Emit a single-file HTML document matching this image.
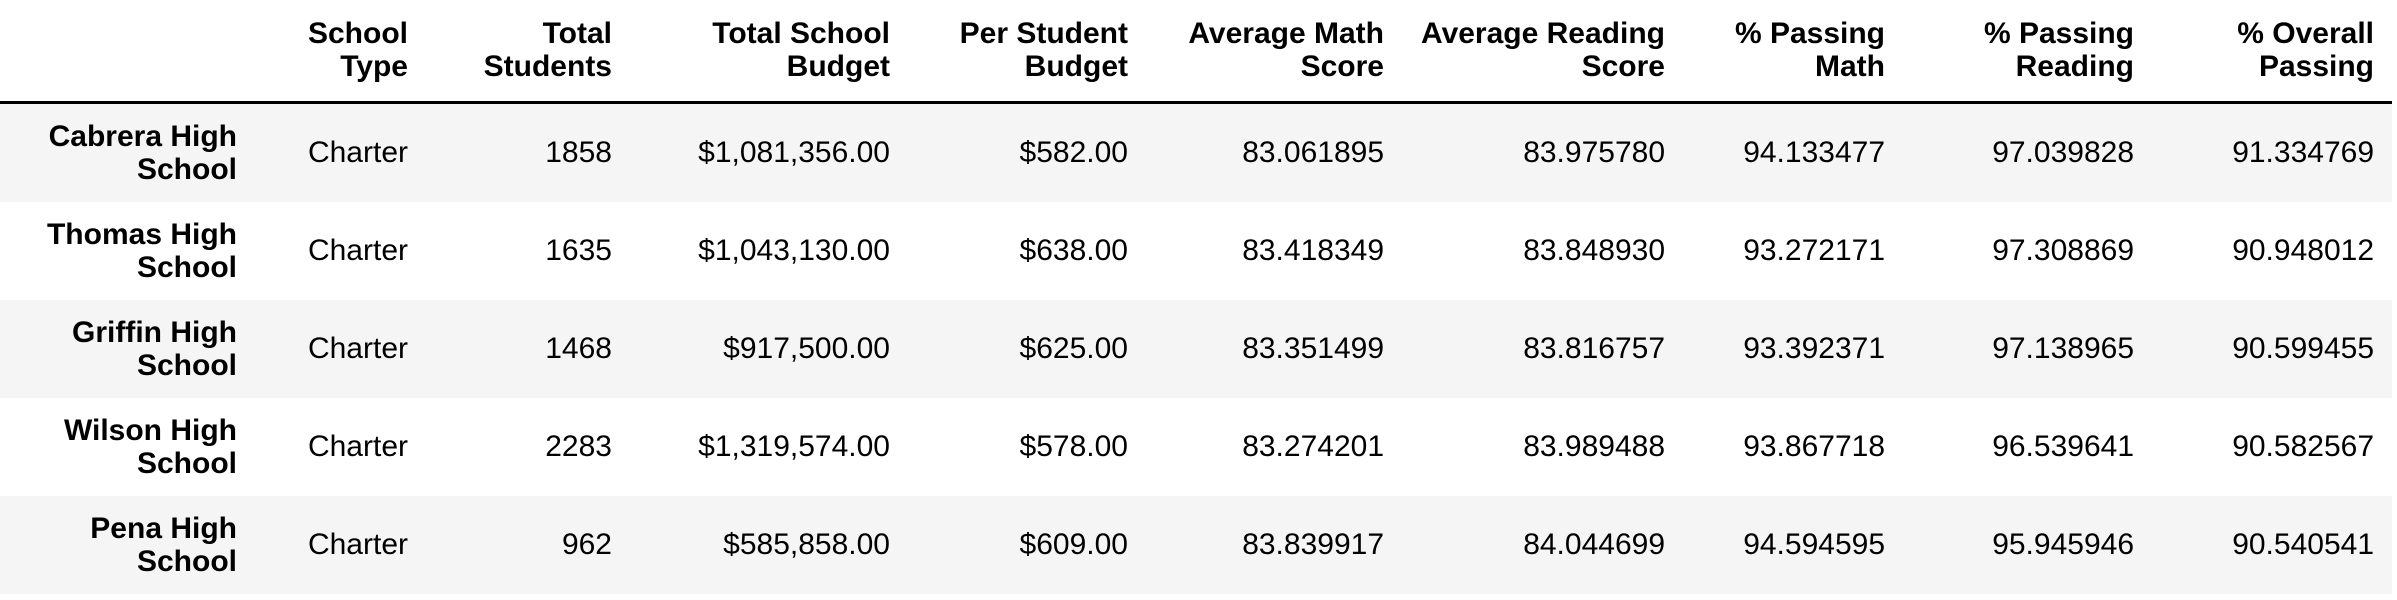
<!DOCTYPE html>
<html><head><meta charset="utf-8">
<style>
html,body{margin:0;padding:0;background:#fff;width:2397px;height:600px;overflow:hidden;}
body{font-family:"Liberation Sans",Arial,sans-serif;font-size:30px;color:#000;position:relative;}
.c{position:absolute;text-align:right;white-space:nowrap;line-height:33px;}
.h{font-weight:bold;}
.row{position:absolute;left:0;width:2392px;}
.rule{position:absolute;left:0;top:101px;width:2392px;height:3px;background:#000;}
</style></head>
<body>
<div class="rule"></div>
<script>
const headers = [["School","Type"],["Total","Students"],["Total School","Budget"],["Per Student","Budget"],["Average Math","Score"],["Average Reading","Score"],["% Passing","Math"],["% Passing","Reading"],["% Overall","Passing"]];
const schools = [["Cabrera High","School"],["Thomas High","School"],["Griffin High","School"],["Wilson High","School"],["Pena High","School"]];
const schoolType = ["Charter","Charter","Charter","Charter","Charter"];
const totalStudents = ["1858","1635","1468","2283","962"];
const totalBudget = ["$1,081,356.00","$1,043,130.00","$917,500.00","$1,319,574.00","$585,858.00"];
const perStudent = ["$582.00","$638.00","$625.00","$578.00","$609.00"];
const avgMath = ["83.061895","83.418349","83.351499","83.274201","83.839917"];
const avgReading = ["83.975780","83.848930","83.816757","83.989488","84.044699"];
const passMath = ["94.133477","93.272171","93.392371","93.867718","94.594595"];
const passReading = ["97.039828","97.308869","97.138965","96.539641","95.945946"];
const overall = ["91.334769","90.948012","90.599455","90.582567","90.540541"];

const cols = [schoolType,totalStudents,totalBudget,perStudent,avgMath,avgReading,passMath,passReading,overall];
const rightEdges = [408,612,890,1128,1384,1665,1885,2134,2374];
const colNames = ['school-type','total-students','total-school-budget','per-student-budget','average-math-score','average-reading-score','percent-passing-math','percent-passing-reading','percent-overall-passing'];
const W = 2397, rowTop = 104, rowH = 98;
function cell(text, right, top, bold){
  const d = document.createElement('div');
  d.className = 'c' + (bold ? ' h' : '');
  d.style.right = (W - right) + 'px';
  d.style.top = top + 'px';
  d.innerHTML = text;
  document.body.appendChild(d);
  return d;
}
headers.forEach((h,i)=>{
  const d = cell(h.join('<br>'), rightEdges[i], 17, true);
  
  
});
schools.forEach((s,r)=>{
  const top = rowTop + r*rowH;
  const bg = document.createElement('div');
  bg.className = 'row';
  bg.style.top = top + 'px';
  bg.style.height = rowH + 'px';
  bg.style.background = (r % 2 === 0) ? '#f5f5f5' : '#fff';
  
  
  document.body.appendChild(bg);
  const rh = cell(s.join('<br>'), 237, top + 16, true);
  
  
  cols.forEach((col,i)=>{
    const d = cell(col[r], rightEdges[i], top + 32, false);
    
    
  });
});
</script>
</body></html>
